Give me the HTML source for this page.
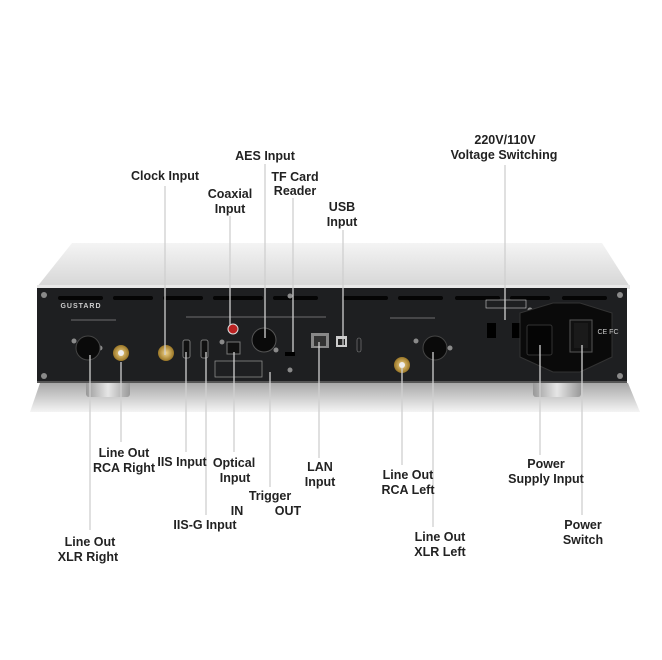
<!DOCTYPE html>
<html><head><style>
html,body{margin:0;padding:0;background:#fff;}
svg{display:block;}
text{font-family:"Liberation Sans",Arial,sans-serif;font-weight:bold;font-size:12.5px;fill:#222;text-anchor:middle;}
.s{font-family:"Liberation Sans",sans-serif;font-size:3.5px;fill:#aaa;font-weight:normal;}
</style></head><body>
<svg width="662" height="660" viewBox="0 0 662 660" xmlns="http://www.w3.org/2000/svg">
<defs>
<linearGradient id="top" x1="0" y1="0" x2="0" y2="1"><stop offset="0" stop-color="#f4f4f4"/><stop offset="1" stop-color="#d6d6d6"/></linearGradient>
<linearGradient id="sh" x1="0" y1="0" x2="0" y2="1"><stop offset="0" stop-color="#a8a8a8"/><stop offset="1" stop-color="#f4f4f4"/></linearGradient>
<linearGradient id="ft" x1="0" y1="0" x2="1" y2="0"><stop offset="0" stop-color="#999"/><stop offset="0.5" stop-color="#e6e6e6"/><stop offset="1" stop-color="#999"/></linearGradient>
<radialGradient id="gold"><stop offset="0" stop-color="#f3d58a"/><stop offset="1" stop-color="#9a7626"/></radialGradient>
</defs>
<!-- shadow -->
<polygon points="40,383 628,383 640,412 30,412" fill="url(#sh)"/>
<!-- feet -->
<rect x="86" y="381" width="44" height="16" rx="3" fill="url(#ft)"/>
<rect x="533" y="381" width="48" height="16" rx="3" fill="url(#ft)"/>
<!-- top -->
<polygon points="72,243 602,243 630,287 37,287" fill="url(#top)"/>
<rect x="37" y="285" width="593" height="4" fill="#e8e8e8"/>
<!-- panel -->
<rect x="37" y="288" width="590" height="95" fill="#1e1f21"/>
<rect x="37" y="381" width="590" height="2" fill="#555"/>
<!-- vents -->
<g fill="#050505">
<rect x="58" y="296" width="45" height="4" rx="2"/><rect x="113" y="296" width="40" height="4" rx="2"/><rect x="163" y="296" width="40" height="4" rx="2"/><rect x="213" y="296" width="50" height="4" rx="2"/><rect x="273" y="296" width="45" height="4" rx="2"/><rect x="343" y="296" width="45" height="4" rx="2"/><rect x="398" y="296" width="45" height="4" rx="2"/><rect x="455" y="296" width="45" height="4" rx="2"/><rect x="510" y="296" width="40" height="4" rx="2"/><rect x="562" y="296" width="45" height="4" rx="2"/>
</g>
<!-- screws -->
<g fill="#8a8a8a">
<circle cx="44" cy="295" r="3"/><circle cx="44" cy="376" r="3"/><circle cx="620" cy="295" r="3"/><circle cx="620" cy="376" r="3"/><circle cx="290" cy="296" r="2.5"/><circle cx="290" cy="370" r="2.5"/><circle cx="74" cy="341" r="2.5"/><circle cx="100" cy="348" r="2.5"/><circle cx="416" cy="341" r="2.5"/><circle cx="450" cy="348" r="2.5"/><circle cx="222" cy="342" r="2.5"/><circle cx="276" cy="350" r="2.5"/><circle cx="530" cy="310" r="2.5"/><circle cx="528" cy="356" r="2.5"/>
</g>
<text x="81" y="308" style="font-size:7px;fill:#ccc;letter-spacing:1px">GUSTARD</text>
<!-- Right out -->
<path d="M71,320 h45" stroke="#bbb" stroke-width="0.6" fill="none"/>
<circle cx="88" cy="348" r="12" fill="#0a0a0a" stroke="#444"/>
<circle cx="121" cy="353" r="8" fill="url(#gold)"/><circle cx="121" cy="353" r="3" fill="#eee"/>
<circle cx="166" cy="353" r="8" fill="url(#gold)"/>
<rect x="183" y="340" width="7" height="18" rx="2" fill="#111" stroke="#777"/>
<rect x="201" y="340" width="7" height="18" rx="2" fill="#111" stroke="#777"/>
<rect x="227" y="342" width="13" height="12" fill="#111" stroke="#777"/>
<circle cx="233" cy="329" r="5" fill="#b22" stroke="#ddd"/>
<path d="M186,317 h140" stroke="#bbb" stroke-width="0.6" fill="none"/>
<circle cx="264" cy="340" r="12" fill="#0a0a0a" stroke="#555"/>
<rect x="215" y="361" width="47" height="16" fill="none" stroke="#999" stroke-width="0.7"/>
<rect x="285" y="352" width="10" height="4" fill="#000"/>
<rect x="311" y="333" width="18" height="15" fill="#888"/><rect x="314" y="336" width="12" height="10" fill="#333"/>
<rect x="336" y="336" width="11" height="11" fill="#ccc"/><rect x="338" y="339" width="7" height="6" fill="#222"/>
<rect x="357" y="338" width="4" height="14" rx="2" fill="none" stroke="#888" stroke-width="0.6"/>
<path d="M390,318 h45" stroke="#bbb" stroke-width="0.6" fill="none"/>
<circle cx="402" cy="365" r="8" fill="url(#gold)"/><circle cx="402" cy="365" r="3" fill="#eee"/>
<circle cx="435" cy="348" r="12" fill="#0a0a0a" stroke="#444"/>
<!-- voltage -->
<rect x="486" y="300" width="40" height="8" fill="none" stroke="#ccc" stroke-width="0.6"/>
<rect x="487" y="323" width="9" height="15" fill="#000"/><rect x="512" y="323" width="9" height="15" fill="#000"/>
<!-- power module -->
<polygon points="520,313 553,303 580,303 612,313 612,357 580,372 553,372 520,357" fill="#0a0a0a" stroke="#333"/>
<rect x="527" y="325" width="25" height="30" rx="2" fill="#050505" stroke="#333"/>
<rect x="570" y="320" width="22" height="32" fill="#111" stroke="#555"/>
<rect x="574" y="323" width="14" height="25" fill="#1a1a1a"/>
<text class="s" x="608" y="334" style="font-size:7px;fill:#ccc">CE FC</text>
<!-- connector lines -->
<g stroke="#cfcfcf" stroke-width="1.3" fill="none">
<path d="M165,186 V355"/><path d="M230,216 V325"/><path d="M265,164 V338"/><path d="M293,198 V352"/><path d="M343,230 V345"/><path d="M505,165 V320"/>
<path d="M90,355 V530"/><path d="M121,362 V442"/><path d="M186,352 V452"/><path d="M206,352 V515"/><path d="M234,352 V452"/><path d="M270,372 V487"/><path d="M319,342 V458"/><path d="M402,368 V465"/><path d="M433,352 V527"/><path d="M540,345 V455"/><path d="M582,345 V515"/>
</g>
<!-- labels top -->
<text x="165" y="180">Clock Input</text>
<text x="230" y="198">Coaxial</text><text x="230" y="213">Input</text>
<text x="265" y="160">AES Input</text>
<text x="295" y="181">TF Card</text><text x="295" y="195">Reader</text>
<text x="342" y="211">USB</text><text x="342" y="226">Input</text>
<text x="505" y="144">220V/110V</text><text x="504" y="159">Voltage Switching</text>
<!-- labels bottom -->
<text x="90" y="546">Line Out</text><text x="88" y="561">XLR Right</text>
<text x="124" y="457">Line Out</text><text x="124" y="472">RCA Right</text>
<text x="182" y="466">IIS Input</text>
<text x="205" y="529">IIS-G Input</text>
<text x="234" y="467">Optical</text><text x="235" y="482">Input</text>
<text x="270" y="500">Trigger</text><text x="237" y="515">IN</text><text x="288" y="515">OUT</text>
<text x="320" y="471">LAN</text><text x="320" y="486">Input</text>
<text x="408" y="479">Line Out</text><text x="408" y="494">RCA Left</text>
<text x="440" y="541">Line Out</text><text x="440" y="556">XLR Left</text>
<text x="546" y="468">Power</text><text x="546" y="483">Supply Input</text>
<text x="583" y="529">Power</text><text x="583" y="544">Switch</text>
</svg>
</body></html>
